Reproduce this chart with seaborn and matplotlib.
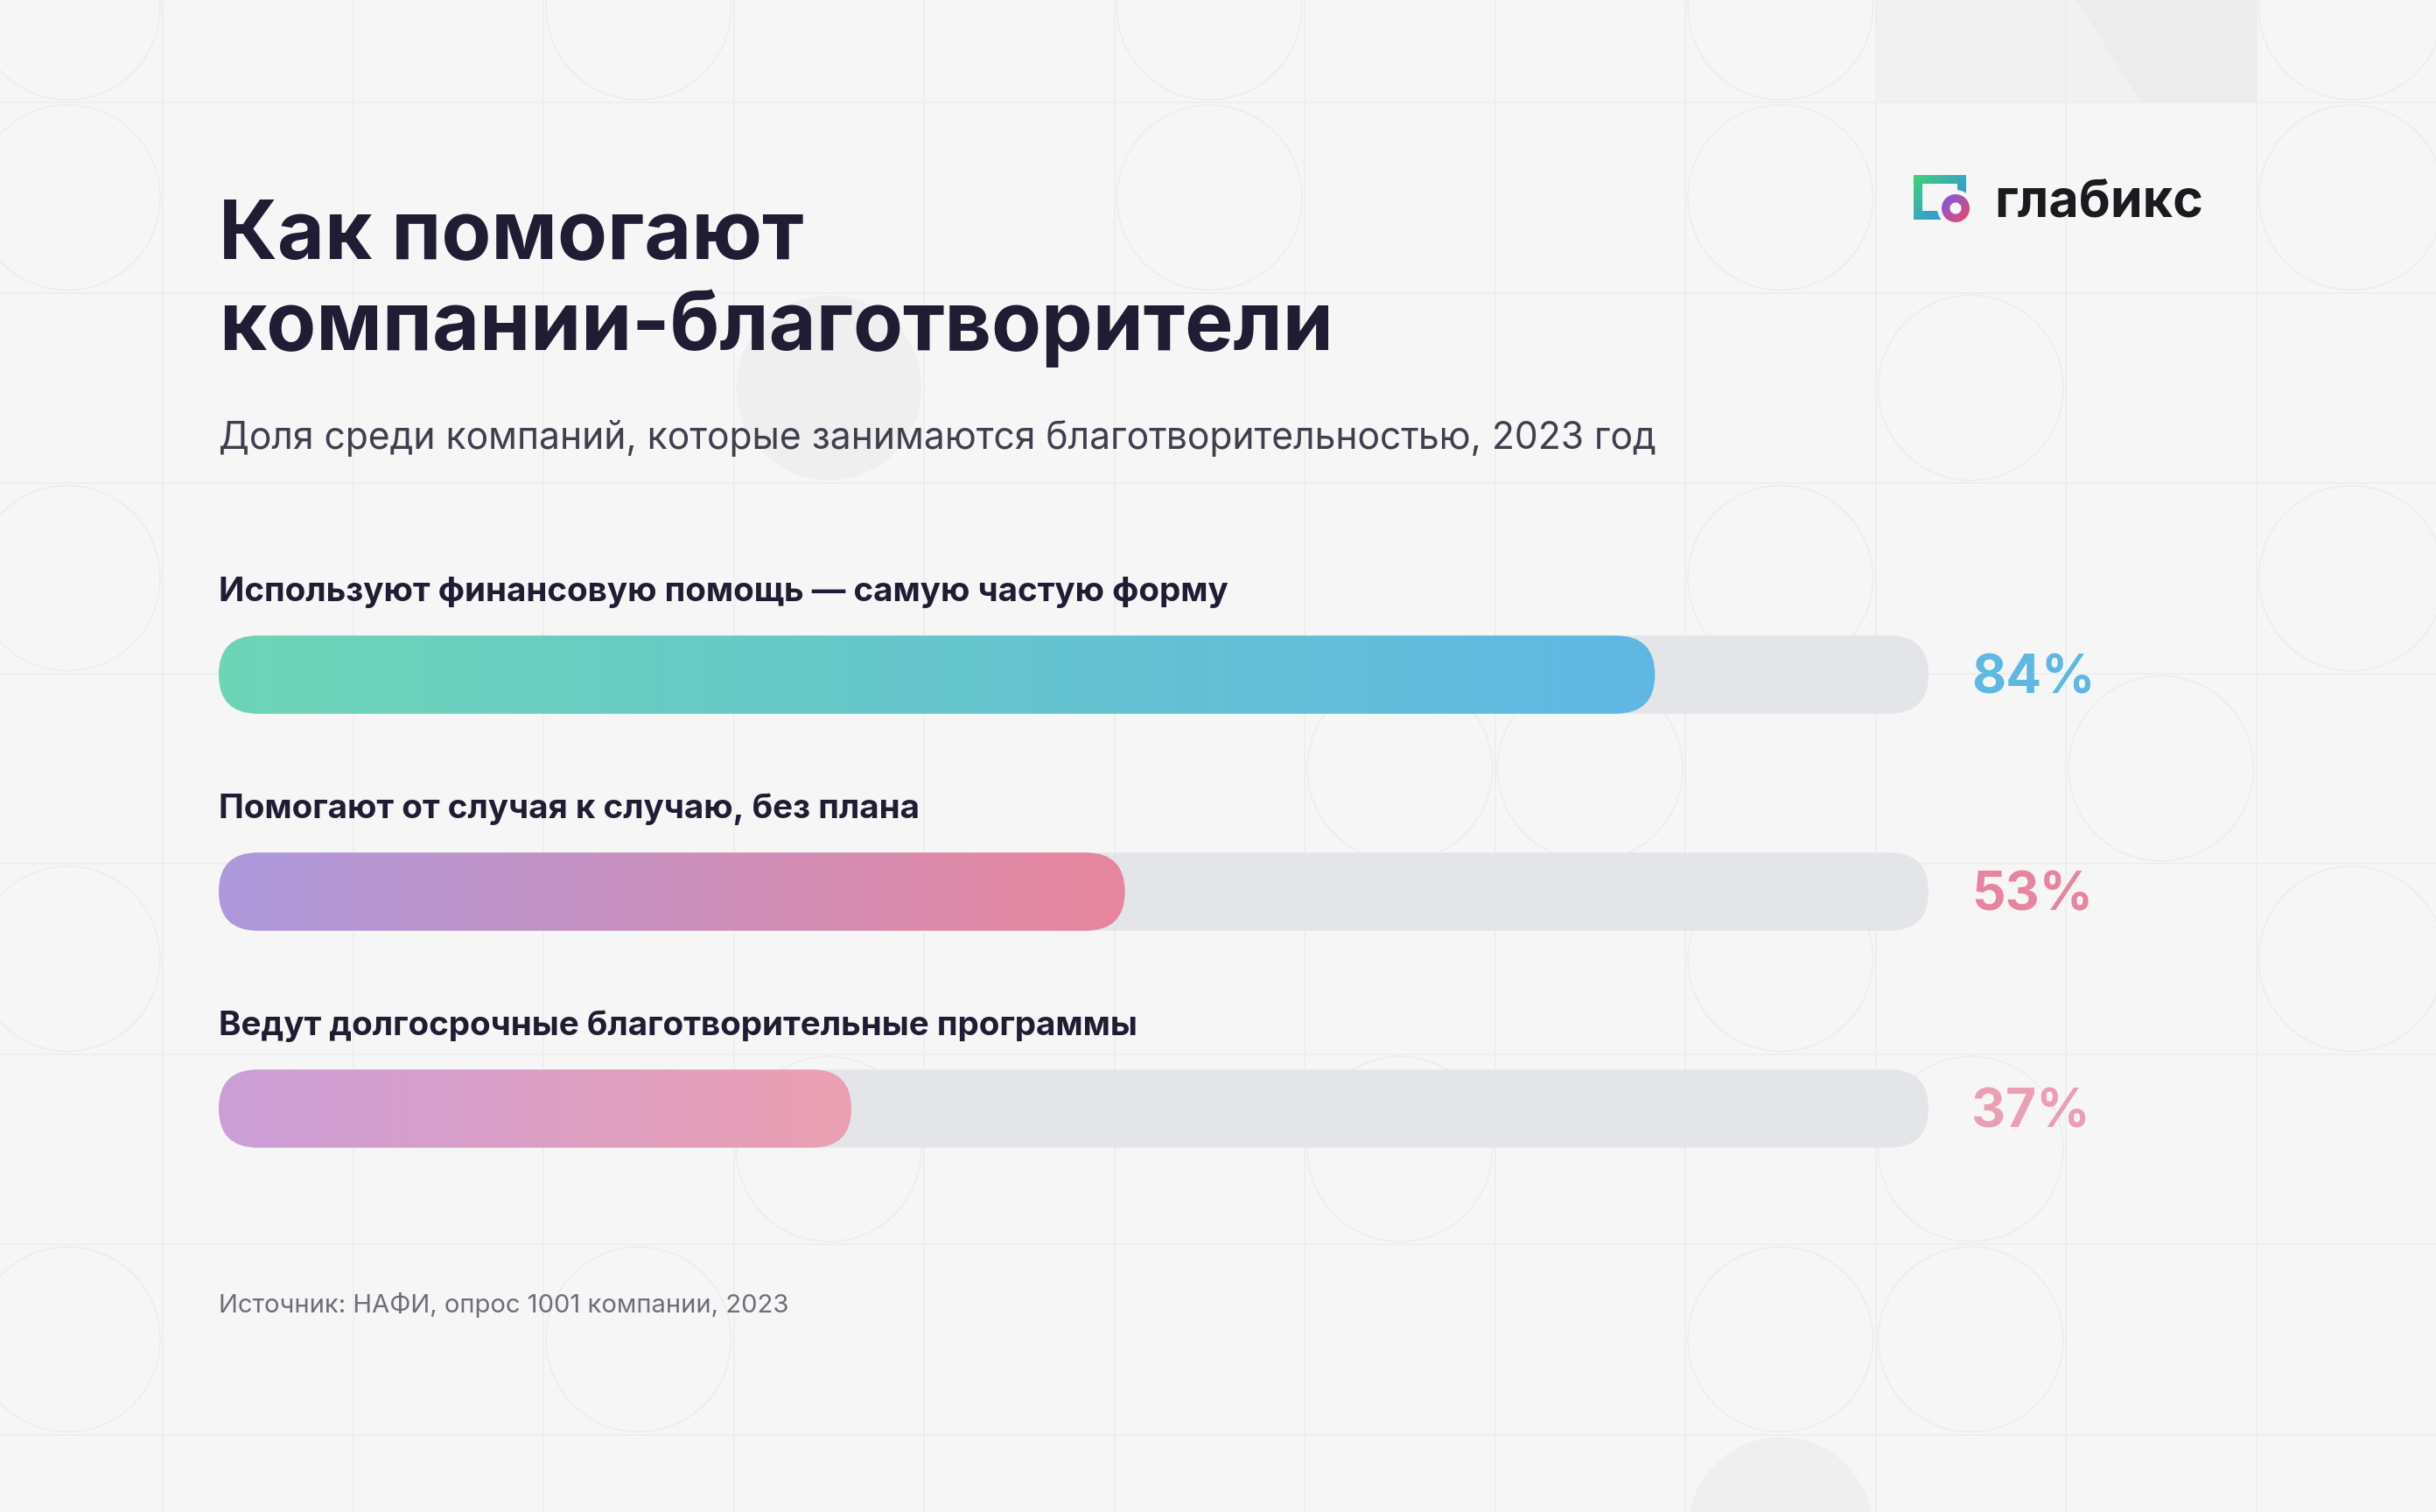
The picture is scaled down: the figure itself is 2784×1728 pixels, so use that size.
import numpy as np
import matplotlib
matplotlib.use("Agg")
import matplotlib.pyplot as plt
import seaborn as sns
import pandas as pd
from matplotlib.patches import FancyBboxPatch, Circle, Polygon, PathPatch
from matplotlib.path import Path
from matplotlib.colors import LinearSegmentedColormap

# ---------------- data ----------------
categories = [
    "Используют финансовую помощь — самую частую форму",
    "Помогают от случая к случаю, без плана",
    "Ведут долгосрочные благотворительные программы",
]
values = [84, 53, 37]
value_labels = ["84%", "53%", "37%"]
track = [100, 100, 100]
grad_start = ["#6dd5b6", "#ad99dc", "#cb9ed8"]
grad_end = ["#5fb7e3", "#e7869d", "#eca0b2"]
label_colors = ["#5db8e3", "#e8849f", "#eb9fb4"]

title_lines = ["Как помогают", "компании-благотворители"]
subtitle = "Доля среди компаний, которые занимаются благотворительностью, 2023 год"
source = "Источник: НАФИ, опрос 1001 компании, 2023"
brand = "глабикс"

# ---------------- setup ----------------
W, H = 2784, 1728
BG = "#f6f6f6"
DARK = "#1f1d33"
sns.set_theme(style="white")
plt.rcParams["font.family"] = ["Inter", "DejaVu Sans"]

fig = plt.figure(figsize=(W / 100, H / 100), dpi=100, facecolor=BG)

# background / decoration axes in pixel coordinates
bg = fig.add_axes([0, 0, 1, 1], zorder=0)
bg.set_xlim(0, W)
bg.set_ylim(H, 0)
bg.set_axis_off()
bg.set_facecolor(BG)

CELL = 217.5
X0, Y0 = 186.0, 117.0
LINE_C = "#ededed"

# top-right tinted block
bg.add_patch(Polygon([(X0 + 9 * CELL, 0), (2373, 0), (2447, Y0), (X0 + 9 * CELL, Y0)],
                     closed=True, fc="#f1f1f1", ec="none", zorder=0.5))
bg.add_patch(Polygon([(2373, 0), (X0 + 11 * CELL, 0), (X0 + 11 * CELL, Y0), (2447, Y0)],
                     closed=True, fc="#ececec", ec="none", zorder=0.5))

for k in range(-1, 13):
    bg.plot([X0 + k * CELL] * 2, [0, H], color=LINE_C, lw=1.2, zorder=1)
for j in range(-1, 8):
    bg.plot([0, W], [Y0 + j * CELL] * 2, color=LINE_C, lw=1.2, zorder=1)

circ_cells = [(0, 0), (3, 0), (6, 0), (9, 0), (12, 0),
              (0, 1), (6, 1), (9, 1), (12, 1),
              (10, 2),
              (0, 3), (9, 3), (12, 3),
              (7, 4), (8, 4), (11, 4),
              (0, 5), (9, 5), (12, 5),
              (4, 6), (7, 6), (10, 6),
              (0, 7), (3, 7), (9, 7), (10, 7)]
for (k, j) in circ_cells:
    cx = X0 - CELL / 2 + k * CELL
    cy = Y0 - CELL / 2 + j * CELL
    bg.add_patch(Circle((cx, cy), CELL / 2 - 3, fill=False, ec=LINE_C, lw=1.2, zorder=1))
for (k, j) in [(4, 2), (9, 8)]:
    cx = X0 - CELL / 2 + k * CELL
    cy = Y0 - CELL / 2 + j * CELL
    bg.add_patch(Circle((cx, cy), CELL / 2 - 3, fc="#efefef", ec="none", zorder=1))

# ---------------- logo ----------------
def gradient_img(ax, extent, c0, c1, clip, zorder):
    n = 64
    gx, gy = np.meshgrid(np.linspace(0, 1, n), np.linspace(0, 1, n))
    g = (gx + gy) / 2
    cmap = LinearSegmentedColormap.from_list("g", [c0, c1])
    im = ax.imshow(g, extent=extent, origin="upper", cmap=cmap, aspect="auto",
                   zorder=zorder, interpolation="bilinear")
    im.set_clip_path(clip)
    return im

lx0, ly0, lx1, ly1, st = 2187, 200, 2247, 251, 10
verts = [(lx0, ly0), (lx1, ly0), (lx1, ly1), (lx0, ly1), (lx0, ly0),
         (lx0 + st, ly0 + st), (lx0 + st, ly1 - st), (lx1 - st, ly1 - st), (lx1 - st, ly0 + st), (lx0 + st, ly0 + st)]
codes = [Path.MOVETO, Path.LINETO, Path.LINETO, Path.LINETO, Path.CLOSEPOLY] * 2
sq = PathPatch(Path(verts, codes), fc="none", ec="none", transform=bg.transData)
bg.add_patch(sq)
gradient_img(bg, (lx0, lx1, ly1, ly0), "#40d27a", "#2f86f2", sq, 3)
rcx, rcy = 2235, 238
bg.add_patch(Circle((rcx, rcy), 21, fc=BG, ec="none", zorder=4))
ring_v = Path.circle((rcx, rcy), 16)
inner_v = Path.circle((rcx, rcy), 6.5)
ring_path = Path.make_compound_path(ring_v, Path(inner_v.vertices[::-1], inner_v.codes))
ring = PathPatch(ring_path, fc="none", ec="none", transform=bg.transData)
bg.add_patch(ring)
gradient_img(bg, (rcx - 16, rcx + 16, rcy + 16, rcy - 16), "#7a5ae6", "#ec4a63", ring, 5)
bg.text(2279, 247, brand, fontsize=42.5, fontweight="bold", color="#1b1b1f",
        va="baseline", ha="left", zorder=6)
bg.set_xlim(0, W)
bg.set_ylim(H, 0)

# ---------------- texts ----------------
bg.text(250, 295, title_lines[0], fontsize=67, fontweight="bold", color=DARK,
        va="baseline", ha="left", zorder=6)
bg.text(250, 400, title_lines[1], fontsize=67, fontweight="bold", color=DARK,
        va="baseline", ha="left", zorder=6)
bg.text(250, 513, subtitle, fontsize=30.7, color="#3f3f4e", va="baseline", ha="left", zorder=6)
bg.text(250, 1500, source, fontsize=21, color="#6e6e7a", va="baseline", ha="left", zorder=6)

# ---------------- bars ----------------
ax_left, ax_right = 250, 2204
ax_top, ax_bot = 647, 1391
ax = fig.add_axes([ax_left / W, 1 - ax_bot / H, (ax_right - ax_left) / W, (ax_bot - ax_top) / H],
                  zorder=2)
ax.patch.set_alpha(0)

df = pd.DataFrame({"category": categories, "value": values, "track": track})
BW = 0.36
sns.barplot(data=df, x="track", y="category", color="#e4e5e9", width=BW,
            saturation=1, ax=ax, orient="h")
sns.barplot(data=df, x="value", y="category", color="#7fc8c8", width=BW,
            saturation=1, ax=ax, orient="h")
ax.set_xlim(0, 100)
ax.set_ylim(2.5, -0.5)

px_x = (ax_right - ax_left) / 100.0
px_y = (ax_bot - ax_top) / 3.0
aspect = px_x / px_y
rad_px = BW * px_y / 2.0

rects = list(ax.patches)
track_rects = rects[:3]
value_rects = rects[3:6]
for p in rects:
    p.remove()

for p in track_rects:
    x, y, w, h = p.get_x(), p.get_y(), p.get_width(), p.get_height()
    fb = FancyBboxPatch((x, y), w, h,
                        boxstyle=f"round,pad=0,rounding_size={rad_px / px_x}",
                        mutation_aspect=aspect, fc="#e4e5e9", ec="none", zorder=2)
    ax.add_patch(fb)

for i, p in enumerate(value_rects):
    x, y, w, h = p.get_x(), p.get_y(), p.get_width(), p.get_height()
    fb = FancyBboxPatch((x, y), w, h,
                        boxstyle=f"round,pad=0,rounding_size={rad_px / px_x}",
                        mutation_aspect=aspect, fc="none", ec="none", zorder=3)
    ax.add_patch(fb)
    cmap = LinearSegmentedColormap.from_list(f"b{i}", [grad_start[i], grad_end[i]])
    grad = np.linspace(0, 1, 256).reshape(1, -1)
    im = ax.imshow(grad, extent=(x, x + w, y + h, y), cmap=cmap, aspect="auto",
                   zorder=3, interpolation="bilinear")
    im.set_clip_path(fb)

ax.set_xlim(0, 100)
ax.set_ylim(2.5, -0.5)

for i, cat in enumerate(categories):
    ax.text(0, i - 0.34, cat, fontsize=27.8, fontweight="bold", color=DARK,
            va="baseline", ha="left", zorder=5)
    ax.text(102.5, i + 0.085, value_labels[i], fontsize=43.5, fontweight="bold",
            color=label_colors[i], va="baseline", ha="left", zorder=5)

ax.set_axis_off()

fig.savefig("out.png", dpi=100, facecolor=BG)
